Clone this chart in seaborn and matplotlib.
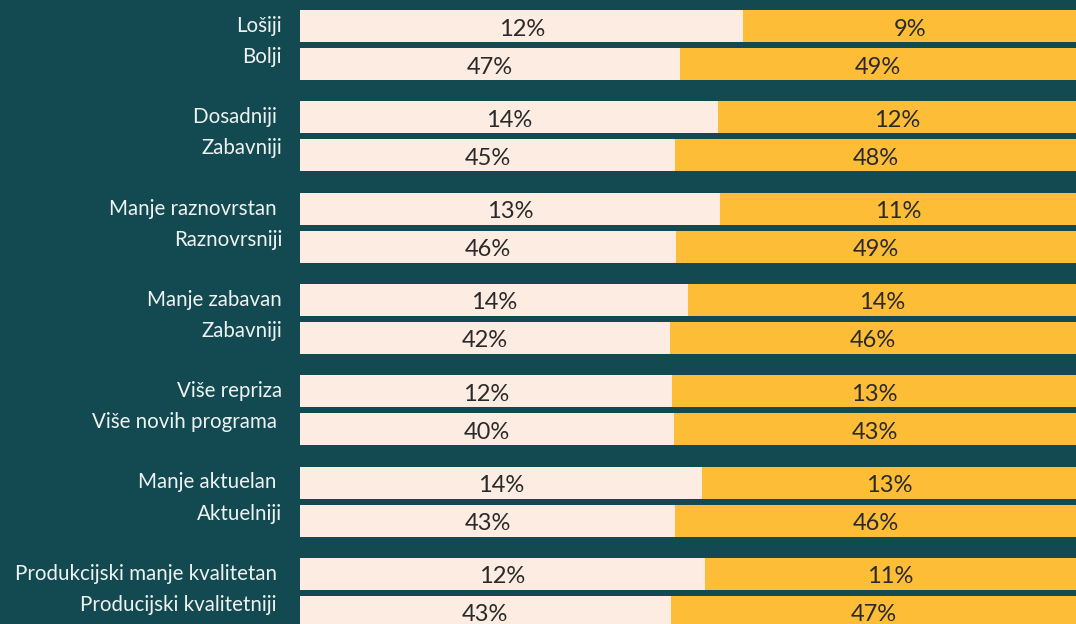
import numpy as np
import pandas as pd
import matplotlib
matplotlib.use("Agg")
import matplotlib.pyplot as plt
import matplotlib.transforms as mtransforms
import seaborn as sns

# Paired answers: each pair is (worse-side statement, better-side statement)
categories = [
    "Lošiji", "Bolji",
    "Dosadniji ", "Zabavniji",
    "Manje raznovrstan ", "Raznovrsniji",
    "Manje zabavan", "Zabavniji",
    "Više repriza", "Više novih programa ",
    "Manje aktuelan ", "Aktuelniji",
    "Produkcijski manje kvalitetan ", "Producijski kvalitetniji ",
]
# Share of respondents in each of the two groups (percent)
group_a = [12, 47, 14, 45, 13, 46, 14, 42, 12, 40, 14, 43, 12, 43]
group_b = [9, 49, 12, 48, 11, 49, 14, 46, 13, 43, 13, 46, 11, 47]

BG = "#134a51"
CREAM = "#fdece1"
YELLOW = "#fdbd36"
INK = "#2a2a2a"
LABEL = "#eef2f1"

sns.set_style("white")
plt.rcParams["font.family"] = ["Lato", "DejaVu Sans"]

W, H = 1076, 624
fig = plt.figure(figsize=(W / 100, H / 100), dpi=100, facecolor=BG)
ax = fig.add_axes([300 / W, 0, 1 - 300 / W, 1])
ax.set_facecolor(BG)

# Row layout: rows come in pairs, tight inside a pair, wider gap between pairs
n = len(categories)
pair = np.arange(n) // 2
member = np.arange(n) % 2
pair_pitch, row_pitch, bar_h = 91.3, 38.0, 32.0
ypos = 26 + pair_pitch * pair + row_pitch * member

a = np.array(group_a, dtype=float)
b = np.array(group_b, dtype=float)
a_share = 100 * a / (a + b)

df = pd.DataFrame({
    "row": ypos,
    "a_share": a_share,
    "whole": 100 * (a + b) / (a + b),
})

bar_width = bar_h / row_pitch
common = dict(data=df, y="row", orient="y", native_scale=True, saturation=1,
              width=bar_width, linewidth=0, errorbar=None, ax=ax)
sns.barplot(x="whole", color=YELLOW, **common)
sns.barplot(x="a_share", color=CREAM, **common)

ax.set_xlim(0, 100)
ax.set_ylim(H, 0)
ax.axis("off")

# Value labels centred in each segment
for y, s, va_, vb_ in zip(ypos, a_share, group_a, group_b):
    ax.text(s / 2, y + 9.5, f"{va_}%", ha="center", va="baseline",
            fontsize=17, color=INK)
    ax.text((s + 100) / 2, y + 9.5, f"{vb_}%", ha="center", va="baseline",
            fontsize=17, color=INK)

# Row names to the left of the bars
trans = mtransforms.blended_transform_factory(fig.transFigure, ax.transData)
for i, name in enumerate(categories):
    first_center = ypos[i - member[i]]
    base = first_center + (6 if member[i] == 0 else 37)
    ax.text(282 / W, base, name, transform=trans, ha="right", va="baseline",
            fontsize=14.8, color=LABEL, clip_on=False)

fig.savefig("out.png", dpi=100, facecolor=BG)
